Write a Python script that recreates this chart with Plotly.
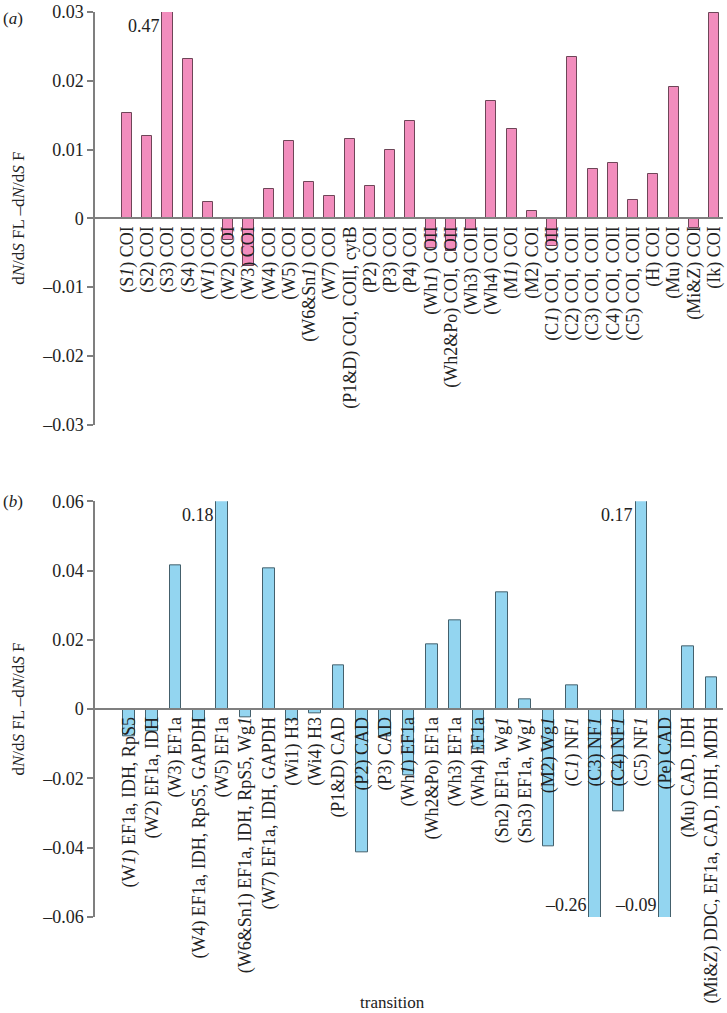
import plotly.graph_objects as go

# ---------------- data ----------------
top_labels = [
    "(S<i>1</i>) COI", "(S2) COI", "(S3) COI", "(S4) COI", "(W<i>1</i>) COI",
    "(W2) COI", "(W3) COI", "(W4) COI", "(W5) COI", "(W6&amp;Sn<i>1</i>) COI",
    "(W7) COI", "(P1&amp;D) COI, COII, cytB", "(P2) COI", "(P3) COI", "(P4) COI",
    "(Wh<i>1</i>) COII", "(Wh2&amp;Po) COI, COII", "(Wh3) COII", "(Wh4) COII",
    "(M<i>1</i>) COI", "(M2) COI", "(C<i>1</i>) COI, COII", "(C2) COI, COII",
    "(C3) COI, COII", "(C4) COI, COII", "(C5) COI, COII", "(H) COI", "(Mu) COI",
    "(Mi&amp;Z) COI", "(Ik) COI",
]
top_values = [
    0.0153, 0.0120, 0.47, 0.0232, 0.0024,
    -0.0031, -0.0070, 0.0042, 0.0112, 0.0053,
    0.0032, 0.0115, 0.0047, 0.0099, 0.0142,
    -0.0043, -0.0048, -0.0017, 0.0170,
    0.0130, 0.0011, -0.0040, 0.0235,
    0.0072, 0.0080, 0.0027, 0.0065, 0.0191,
    -0.0014, 0.0298,
]

bottom_labels = [
    "(W<i>1</i>) EF1a, IDH, RpS5", "(W2) EF1a, IDH", "(W3) EF1a",
    "(W4) EF1a, IDH, RpS5, GAPDH", "(W5) EF1a",
    "(W6&amp;Sn1) EF1a, IDH, RpS5, Wg<i>1</i>", "(W7) EF1a, IDH, GAPDH",
    "(Wi1) H3", "(Wi4) H3", "(P1&amp;D) CAD", "(P2) CAD", "(P3) CAD",
    "(Wh<i>1</i>) EF1a", "(Wh2&amp;Po) EF1a", "(Wh3) EF1a", "(Wh4) EF1a",
    "(Sn2) EF1a, Wg<i>1</i>", "(Sn3) EF1a, Wg<i>1</i>", "(M2) Wg<i>1</i>",
    "(C<i>1</i>) NF<i>1</i>", "(C3) NF<i>1</i>", "(C4) NF<i>1</i>", "(C5) NF<i>1</i>",
    "(Pe) CAD", "(Mu) CAD, IDH", "(Mi&amp;Z) DDC, EF1a, CAD, IDH, MDH",
]
bottom_values = [
    -0.0078, -0.0065, 0.0415,
    -0.0034, 0.18,
    -0.0024, 0.0408,
    -0.0031, -0.0013, 0.0127, -0.0414, -0.0078,
    -0.0190, 0.0188, 0.0256, -0.0115,
    0.0338, 0.0029, -0.0395,
    0.0069, -0.26, -0.0295, 0.17,
    -0.09, 0.0181, 0.0093,
]

top_yticks = [-0.03, -0.02, -0.01, 0, 0.01, 0.02, 0.03]
bottom_yticks = [-0.06, -0.04, -0.02, 0, 0.02, 0.04, 0.06]

# clipped-bar value notes: (panel, category index, text, side)
notes = [
    ("top", 2, "0.47", "top"),
    ("bottom", 4, "0.18", "top"),
    ("bottom", 22, "0.17", "top"),
    ("bottom", 20, "\u20130.26", "bottom"),
    ("bottom", 23, "\u20130.09", "bottom"),
]

# ---------------- style ----------------
FONT = "Liberation Serif"
TXT = "#222222"
AXC = "#7f7f7f"
PINK = "#F28DBD"
PINK_LINE = "#6e4658"
BLUE = "#93D5F0"
BLUE_LINE = "#44606c"

top_dom = [0.544, 1.0]
bot_dom = [0.0, 0.4593]
top_range = [-0.03, 0.03]
bot_range = [-0.06, 0.06]


def fmt(v):
    if v == 0:
        return "0"
    return ("\u2013" if v < 0 else "") + f"{abs(v):.2f}"


def mid(d):
    return (d[0] + d[1]) / 2


fig = go.Figure()
fig.add_trace(go.Bar(
    x=list(range(len(top_values))), y=top_values, width=0.5,
    marker=dict(color=PINK, line=dict(color=PINK_LINE, width=1)),
    xaxis="x", yaxis="y", showlegend=False,
))
fig.add_trace(go.Bar(
    x=list(range(len(bottom_values))), y=bottom_values, width=0.5,
    marker=dict(color=BLUE, line=dict(color=BLUE_LINE, width=1)),
    xaxis="x2", yaxis="y2", showlegend=False,
))

xcommon = dict(
    type="linear", anchor="free", showline=True, linecolor=AXC, linewidth=1.5,
    ticks="", showgrid=False, zeroline=False, tickangle=-90,
    tickfont=dict(family=FONT, size=18, color=TXT),
)
ycommon = dict(
    showline=True, linecolor=AXC, linewidth=1.5, ticks="outside", ticklen=6,
    tickcolor=AXC, tickwidth=1.5, showgrid=False, zeroline=False,
    tickfont=dict(family=FONT, size=18, color=TXT),
)

fig.update_layout(
    width=727, height=1013,
    margin=dict(l=95, r=2, t=7, b=96),
    plot_bgcolor="white", paper_bgcolor="white",
    bargap=0,
    xaxis=dict(xcommon, domain=[0, 1], range=[-1.58, 29.44],
               tickvals=list(range(len(top_labels))), ticktext=top_labels,
               position=mid(top_dom)),
    yaxis=dict(ycommon, domain=top_dom, range=top_range, anchor="x",
               tickvals=top_yticks, ticktext=[fmt(v) for v in top_yticks]),
    xaxis2=dict(xcommon, domain=[0, 1], range=[-1.45, 25.49],
                tickvals=list(range(len(bottom_labels))), ticktext=bottom_labels,
                position=mid(bot_dom)),
    yaxis2=dict(ycommon, domain=bot_dom, range=bot_range, anchor="x2",
                tickvals=bottom_yticks, ticktext=[fmt(v) for v in bottom_yticks]),
)

ann = []
ytitle = "d<i>N</i>/d<i>S</i> FL \u2013d<i>N</i>/d<i>S</i> F"
for dom in (top_dom, bot_dom):
    ann.append(dict(xref="paper", yref="paper", x=-0.122, y=mid(dom), text=ytitle,
                    textangle=-90, showarrow=False, xanchor="center", yanchor="middle",
                    font=dict(family=FONT, size=17, color=TXT)))
ann.append(dict(xref="paper", yref="paper", x=-0.149, y=top_dom[1], text="(<i>a</i>)",
                showarrow=False, xanchor="left", yanchor="top", yshift=5,
                font=dict(family=FONT, size=17, color=TXT)))
ann.append(dict(xref="paper", yref="paper", x=-0.149, y=bot_dom[1], text="(<i>b</i>)",
                showarrow=False, xanchor="left", yanchor="middle",
                font=dict(family=FONT, size=17, color=TXT)))
ann.append(dict(xref="paper", yref="paper", x=0.473, y=-0.0945, text="transition",
                showarrow=False, xanchor="center", yanchor="middle",
                font=dict(family=FONT, size=17, color=TXT)))

for panel, idx, txt, side in notes:
    xr, yr = ("x", "y") if panel == "top" else ("x2", "y2")
    rng = top_range if panel == "top" else bot_range
    yv = rng[1] if side == "top" else rng[0]
    ann.append(dict(xref=xr, yref=yr, x=idx - 0.27, y=yv, text=txt, showarrow=False,
                    xanchor="right", yanchor="top" if side == "top" else "bottom",
                    yshift=-2 if side == "top" else 0,
                    font=dict(family=FONT, size=18, color=TXT)))

fig.update_layout(annotations=ann)
fig.write_html(
    "out.html",
    config={"displayModeBar": False},
    post_script="document.body.style.margin='0';document.body.style.padding='0';"
                "document.documentElement.style.overflow='hidden';",
)
